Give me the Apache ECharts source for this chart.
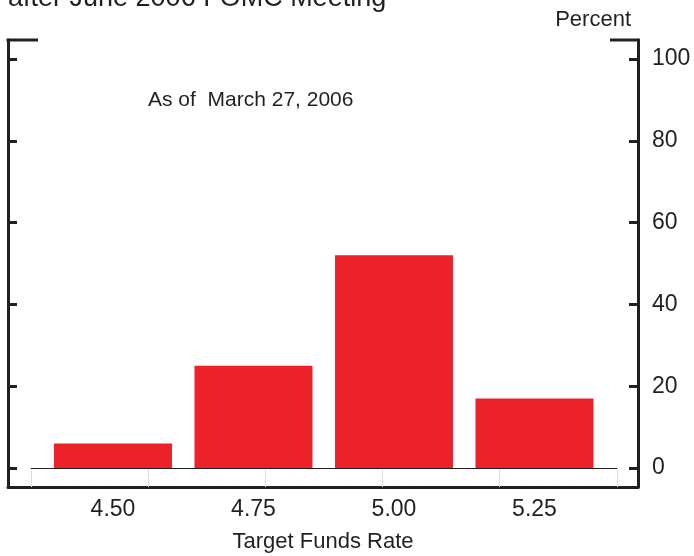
<!DOCTYPE html>
<html>
<head>
<meta charset="utf-8">
<script src="https://cdn.jsdelivr.net/npm/echarts@6/dist/echarts.min.js"></script>
<style>
  html, body { margin: 0; padding: 0; background: #fff; }
  #main { width: 694px; height: 556px; }
</style>
</head>
<body>
<div id="main"></div>
<script>
// 目标利率 (x) 和概率 (y)
const rates = [4.50, 4.75, 5.00, 5.25];
const probs = [6, 25, 52, 17];
const yTicks = [0, 20, 40, 60, 80, 100];
// 底部浅灰色刻度
const xGrayTicks = [4.354, 4.562, 4.771, 4.980, 5.188, 5.397];
const baseFrom = 4.354, baseTo = 5.397;

const font = '"Liberation Sans", Arial, sans-serif';
const ink = '#231f20';

const myChart = echarts.init(document.getElementById('main'));
const option = {
  animation: false,
  grid: { left: 8, right: 56, top: 40, bottom: 69, outerBoundsMode: 'none' },
  xAxis: {
    type: 'value',
    min: 4.3132,
    max: 5.4342,
    splitLine: { show: false },
    axisLine: { onZero: false, lineStyle: { color: ink, width: 3 } },
    axisTick: {
      show: true, inside: true, length: 19, customValues: xGrayTicks,
      lineStyle: { color: '#dedede', width: 1 }
    },
    axisLabel: {
      customValues: rates, margin: 11,
      formatter: (v) => v.toFixed(2),
      fontFamily: font, fontSize: 23, color: ink
    },
    name: 'Target Funds Rate',
    nameLocation: 'middle',
    nameGap: 44,
    nameTextStyle: { fontFamily: font, fontSize: 22, color: ink }
  },
  yAxis: [
    {
      type: 'value', position: 'right',
      min: -4.645, max: 104.65,
      splitLine: { show: false },
      axisLine: { show: true, onZero: false, lineStyle: { color: ink, width: 3 } },
      axisTick: { show: true, inside: true, length: 9, customValues: yTicks, lineStyle: { color: ink, width: 3 } },
      axisLabel: {
        customValues: yTicks, margin: 14, padding: [6, 0, 0, 0],
        fontFamily: font, fontSize: 23, color: ink
      }
    },
    {
      type: 'value', position: 'left',
      min: -4.645, max: 104.65,
      splitLine: { show: false },
      axisLine: { show: true, onZero: false, lineStyle: { color: ink, width: 3 } },
      axisTick: { show: true, inside: true, length: 9, customValues: yTicks, lineStyle: { color: ink, width: 3 } },
      axisLabel: { show: false }
    }
  ],
  series: [{
    type: 'bar',
    data: rates.map((r, i) => [r, probs[i]]),
    barWidth: 118,
    itemStyle: { color: '#ed2129' },
    markLine: {
      silent: true, symbol: 'none', label: { show: false },
      lineStyle: { color: ink, width: 1, type: 'solid' },
      data: [[{ coord: [baseFrom, 0] }, { coord: [baseTo, 0] }]]
    }
  }],
  graphic: [
    { type: 'text', left: 8, top: -15,
      style: { text: 'after June 2006 FOMC Meeting', font: '27px ' + font, fill: ink } },
    { type: 'text', right: 63, top: 9,
      style: { text: 'Percent', font: '22px ' + font, fill: ink } },
    { type: 'text', left: 148, top: 90,
      style: { text: 'As of  March 27, 2006', font: '21px ' + font, fill: ink } },
    { type: 'line', shape: { x1: 6.5, y1: 40, x2: 38, y2: 40 }, style: { stroke: ink, lineWidth: 3 } },
    { type: 'line', shape: { x1: 610, y1: 40, x2: 639.5, y2: 40 }, style: { stroke: ink, lineWidth: 3 } }
  ]
};
myChart.setOption(option, true);
</script>
</body>
</html>
